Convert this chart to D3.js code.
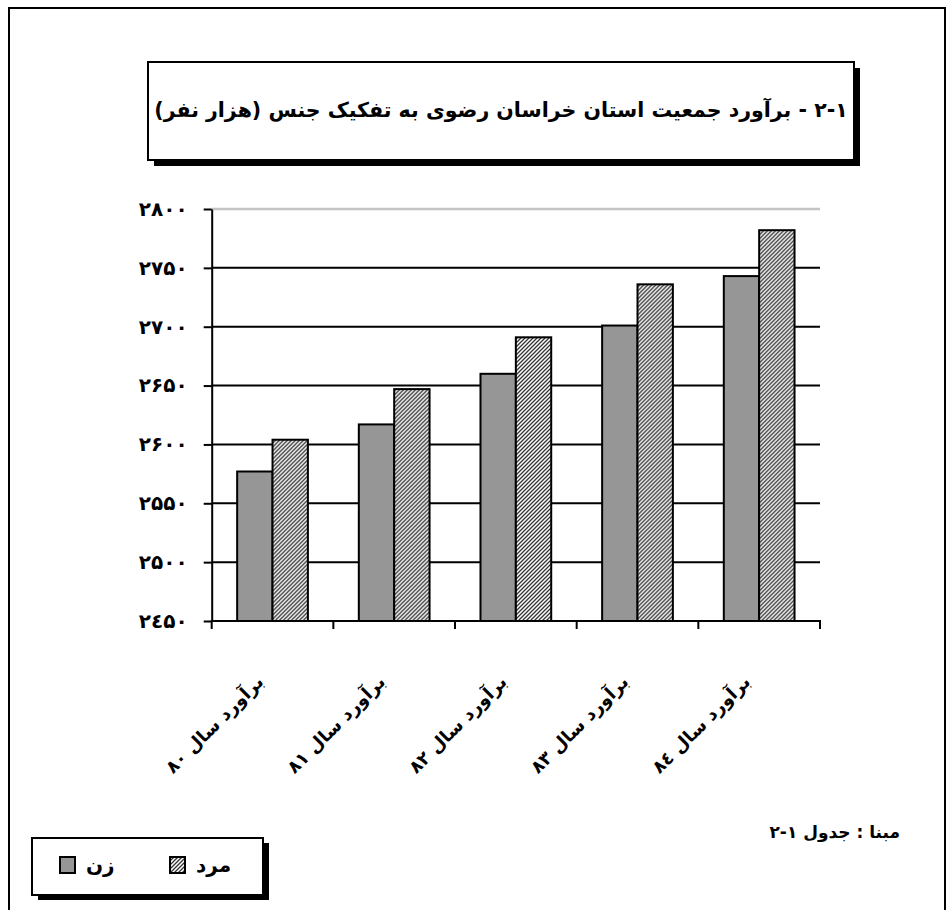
<!DOCTYPE html>
<html>
<head>
<meta charset="utf-8">
<script src="https://cdn.jsdelivr.net/npm/d3@7"></script>
<style>
  body { margin: 0; background: #fff; }
  svg text { font-family: "DejaVu Sans", sans-serif; font-weight: bold; }
</style>
</head>
<body>
<script>
// chart data (thousand persons)
var categories = ["برآورد سال ۸۰", "برآورد سال ۸۱", "برآورد سال ۸۲", "برآورد سال ۸۳", "برآورد سال ۸٤"];
var zan = [2577, 2617, 2660, 2701, 2743];
var mard = [2604, 2647, 2691, 2736, 2782];
var yTicks = [2450, 2500, 2550, 2600, 2650, 2700, 2750, 2800];
var seriesKeys = ["zan", "mard"];
var seriesNames = ["زن", "مرد"];

var title = "١-٢ - برآورد جمعیت استان خراسان رضوی به تفکیک جنس (هزار نفر)";
var source = "مبنا : جدول ١-٢";

var faDigits = "۰۱۲۳٤۵۶۷۸۹";
function fa(n) {
	return String(n).replace(/[0-9]/g, function(c) { return faDigits[+c]; });
}

var w = 951, h = 910;

var svg = d3.select("body")
	.append("svg")
	.attr("width", w)
	.attr("height", h);

// hatch pattern for mard
var defs = svg.append("defs");
var pat = defs.append("pattern")
	.attr("id", "hatch")
	.attr("patternUnits", "userSpaceOnUse")
	.attr("width", 4)
	.attr("height", 4);
pat.append("rect").attr("width", 4).attr("height", 4).attr("fill", "#fff");
pat.append("path")
	.attr("d", "M0,4 L4,0 M-1,1 L1,-1 M3,5 L5,3")
	.attr("stroke", "#333")
	.attr("stroke-width", 1.3);

// outer frame
svg.append("rect")
	.attr("x", 9).attr("y", 8)
	.attr("width", 936).attr("height", 920)
	.attr("fill", "none")
	.attr("stroke", "#000")
	.attr("stroke-width", 2);

// title box with shadow
svg.append("rect")
	.attr("x", 154).attr("y", 68)
	.attr("width", 706).attr("height", 98)
	.attr("fill", "#000");
svg.append("rect")
	.attr("x", 148).attr("y", 62)
	.attr("width", 706).attr("height", 98)
	.attr("fill", "#fff")
	.attr("stroke", "#000")
	.attr("stroke-width", 2);
var tt = svg.append("text")
	.attr("x", 501).attr("y", 117)
	.attr("direction", "rtl")
	.attr("text-anchor", "middle")
	.style("font-size", "20px")
	.text(title);
var tl = tt.node().getComputedTextLength();
tt.style("font-size", (20 * 694 / tl) + "px");

// scales
var y = d3.scaleLinear()
	.domain([2450, 2800])
	.range([621, 209]);

var x0 = d3.scaleBand()
	.domain(categories)
	.range([211.7, 820]);

var x1 = d3.scaleBand()
	.domain(seriesKeys)
	.range([0, x0.bandwidth()])
	.paddingOuter(0.72);

// gridlines
svg.selectAll("line.grid")
	.data(yTicks.slice(1))
	.enter()
	.append("line")
	.attr("class", "grid")
	.attr("x1", 211.7)
	.attr("x2", 820)
	.attr("y1", function(d) { return y(d); })
	.attr("y2", function(d) { return y(d); })
	.attr("stroke", function(d) { return d === 2800 ? "#c4c4c4" : "#000"; })
	.attr("stroke-width", function(d) { return d === 2800 ? 2.5 : 2; });

// bars
var rows = categories.map(function(c, i) {
	return { cat: c, zan: zan[i], mard: mard[i] };
});

var groups = svg.selectAll("g.cat")
	.data(rows)
	.enter()
	.append("g")
	.attr("class", "cat")
	.attr("transform", function(d) { return "translate(" + x0(d.cat) + ",0)"; });

groups.selectAll("rect")
	.data(function(d) { return seriesKeys.map(function(k) { return { key: k, value: d[k] }; }); })
	.enter()
	.append("rect")
	.attr("x", function(d) { return x1(d.key); })
	.attr("y", function(d) { return y(d.value); })
	.attr("width", x1.bandwidth())
	.attr("height", function(d) { return y(2450) - y(d.value); })
	.attr("fill", function(d) { return d.key === "zan" ? "#969696" : "url(#hatch)"; })
	.attr("stroke", "#000")
	.attr("stroke-width", 2);

// y axis
var yAxis = svg.append("g")
	.attr("transform", "translate(211.7,0)")
	.call(d3.axisLeft(y).tickValues(yTicks).tickSize(8).tickSizeOuter(0).tickPadding(16).tickFormat(fa));
yAxis.select(".domain").attr("stroke-width", 2);
yAxis.selectAll(".tick line").attr("stroke-width", 2);
yAxis.selectAll(".tick text")
	.style("font-size", "20px")
	.style("font-family", "DejaVu Sans")
	.attr("fill", "#000");

// x axis baseline and boundary ticks
svg.append("line")
	.attr("x1", 210.7).attr("x2", 821)
	.attr("y1", y(2450)).attr("y2", y(2450))
	.attr("stroke", "#000")
	.attr("stroke-width", 2);

var bounds = categories.map(function(c) { return x0(c); }).concat([x0.range()[1]]);
svg.selectAll("line.xtick")
	.data(bounds)
	.enter()
	.append("line")
	.attr("class", "xtick")
	.attr("x1", function(d) { return d; })
	.attr("x2", function(d) { return d; })
	.attr("y1", y(2450))
	.attr("y2", y(2450) + 8)
	.attr("stroke", "#000")
	.attr("stroke-width", 2);

// rotated category labels
svg.selectAll("text.xlab")
	.data(categories)
	.enter()
	.append("text")
	.attr("class", "xlab")
	.attr("text-anchor", "end")
	.style("font-size", "18px")
	.attr("transform", function(d) {
		var cx = x0(d) + x0.bandwidth() / 2 - 8;
		return "translate(" + cx + ",683) rotate(-45)";
	})
	.text(function(d) { return d; });

// source note
svg.append("text")
	.attr("x", 900).attr("y", 838)
	.attr("direction", "rtl")
	.attr("text-anchor", "start")
	.style("font-size", "17px")
	.text(source);

// legend
svg.append("rect")
	.attr("x", 38).attr("y", 843)
	.attr("width", 231).attr("height", 57)
	.attr("fill", "#000");
svg.append("rect")
	.attr("x", 32).attr("y", 838)
	.attr("width", 231).attr("height", 57)
	.attr("fill", "#fff")
	.attr("stroke", "#000")
	.attr("stroke-width", 2);

var legendX = [60, 170];
var leg = svg.selectAll("g.leg")
	.data(seriesKeys)
	.enter()
	.append("g")
	.attr("class", "leg")
	.attr("transform", function(d, i) { return "translate(" + legendX[i] + ",857)"; });
leg.append("rect")
	.attr("width", 15).attr("height", 16)
	.attr("fill", function(d) { return d === "zan" ? "#969696" : "url(#hatch)"; })
	.attr("stroke", "#000")
	.attr("stroke-width", 2);
leg.append("text")
	.attr("x", 26).attr("y", 15)
	.attr("direction", "rtl")
	.attr("text-anchor", "end")
	.style("font-size", "20px")
	.text(function(d, i) { return seriesNames[i]; });
</script>
</body>
</html>
